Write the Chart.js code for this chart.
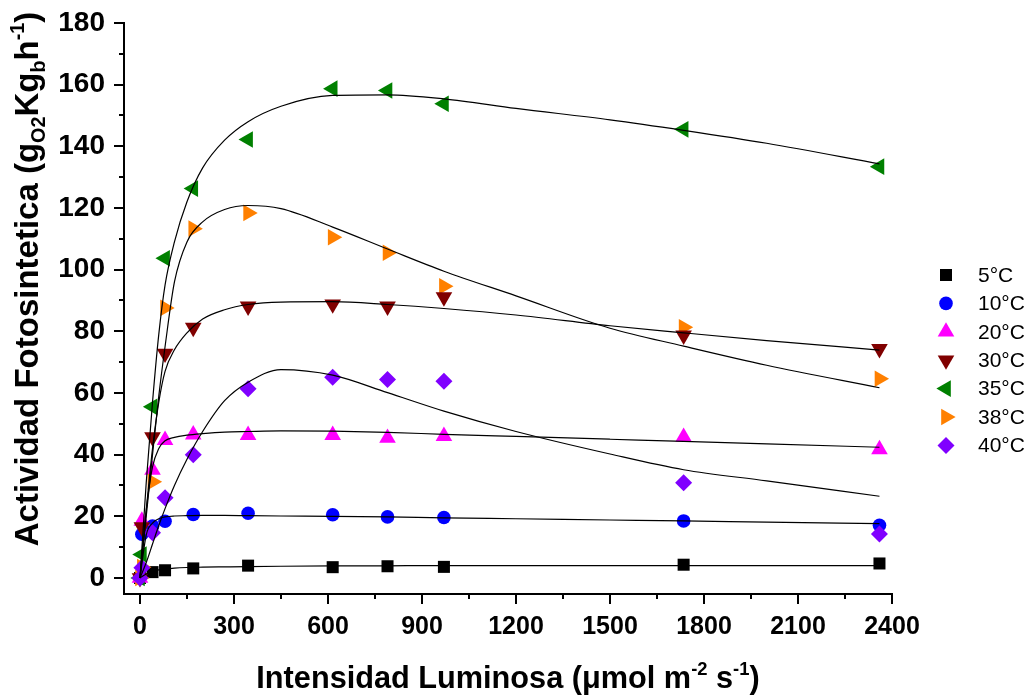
<!DOCTYPE html>
<html>
<head>
<meta charset="utf-8">
<script src="https://cdn.jsdelivr.net/npm/chart.js@4.4.1/dist/chart.umd.min.js"></script>
<style>
  html, body { margin: 0; padding: 0; background: #ffffff; }
  #wrap { width: 1030px; height: 696px; }
</style>
</head>
<body>
<div id="wrap"><canvas id="chart" width="1030" height="696"></canvas></div>
<script>
const FONT = '"Liberation Sans", Arial, Helvetica, sans-serif';

// Measured photosynthetic activity at each light intensity, one array per temperature
const temperatures = ['5°C', '10°C', '20°C', '30°C', '35°C', '38°C', '40°C'];
const lightIntensity = [0, 6, 40, 80, 170, 345, 615, 790, 970, 1735, 2360];
const rate5  = [0, null, 1.9, 2.5, 3.1, 4.0, 3.5, 3.8, 3.6, 4.3, 4.7];
const rate10 = [0, 14.2, 16.8, 18.4, 20.6, 21.0, 20.5, 19.8, 19.6, 18.5, 17.1];
const rate20 = [0, 18.5, 35.0, 44.7, 46.5, 46.3, 46.3, 45.4, 46.0, 45.7, 41.7];
const rate30 = [0, 16.5, 45.7, 72.8, 81.2, 88.1, 88.8, 88.1, 91.1, 78.7, 74.3];
const rate35 = [0, 7.6, 55.5, 103.7, 126.3, 142.2, 158.7, 158.1, 153.8, 145.5, 133.4];
const rate38 = [0, 3.5, 31.2, 87.6, 113.3, 118.4, 110.5, 105.5, 94.6, 81.3, 64.6];
const rate40 = [0, 3.3, 14.7, 26.0, 40.0, 61.4, 65.1, 64.4, 63.8, 30.9, 14.3];

// Fitted light-response curves, sampled along the intensity axis
const fitIntensity = [0, 20, 40, 60, 80, 110, 150, 200, 270, 345, 450, 615, 790, 970, 1200, 1500, 1735, 2000, 2360];
const fit5  = [0, 1.3, 2.1, 2.6, 2.9, 3.2, 3.4, 3.5, 3.6, 3.7, 3.8, 3.9, 3.95, 4.0, 4.0, 4.0, 4.0, 4.0, 4.0];
const fit10 = [0, 14, 17.8, 19.2, 19.8, 20.1, 20.2, 20.3, 20.3, 20.2, 20.1, 20.0, 19.8, 19.5, 19.2, 18.8, 18.5, 18.1, 17.6];
const fit20 = [0, 22, 36, 42, 44.5, 45.6, 46.3, 46.8, 47.3, 47.5, 47.7, 47.6, 47.2, 46.6, 45.9, 45.0, 44.3, 43.5, 42.4];
const fit30 = [0, 22, 42, 57, 67, 74, 79.5, 84, 87, 88.7, 89.5, 89.6, 88.7, 87.4, 85.3, 81.8, 79.5, 77, 73.9];
const fit35 = [0, 31, 57, 79, 95, 109, 122, 133, 142, 148, 153, 156.5, 156.7, 155.4, 152.3, 148.6, 145.2, 141, 134.3];
const fit38 = [0, 20, 40, 59, 75, 96, 109, 115.5, 119.5, 120.8, 119.8, 113.8, 106.7, 99.5, 91.5, 81, 75.2, 69, 61.7];
const fit40 = [0, 5, 11, 17, 22.5, 30, 38.5, 47.5, 57.5, 63.5, 67.6, 65.8, 60.1, 54.1, 47.5, 40.2, 35.1, 31.5, 26.5];

// Axis tick labels
const xTicks = [0, 300, 600, 900, 1200, 1500, 1800, 2100, 2400];
const yTicks = [0, 20, 40, 60, 80, 100, 120, 140, 160, 180];

const measured = [rate5, rate10, rate20, rate30, rate35, rate38, rate40];
const fitted = [fit5, fit10, fit20, fit30, fit35, fit38, fit40];

const markerStyles = [
  { color: '#000000', pointStyle: 'rect',     rotation: 0,   radius: 8.5, order: 7 },
  { color: '#0000ff', pointStyle: 'circle',   rotation: 0,   radius: 6.8, order: 6 },
  { color: '#ff00ff', pointStyle: 'triangle', rotation: 0,   radius: 9.6, order: 5 },
  { color: '#800000', pointStyle: 'triangle', rotation: 180, radius: 9.6, order: 2 },
  { color: '#008000', pointStyle: 'triangle', rotation: 270, radius: 9.6, order: 3 },
  { color: '#ff8000', pointStyle: 'triangle', rotation: 90,  radius: 9.6, order: 4 },
  { color: '#8000ff', pointStyle: 'rectRot',  rotation: 0,   radius: 8.5, order: 1 }
];

const toPoints = (xs, ys) => xs.map((x, i) => ({ x: x, y: ys[i] })).filter(p => p.y !== null);

const datasets = [];
measured.forEach((series, i) => {
  const s = markerStyles[i];
  datasets.push({
    label: temperatures[i],
    data: toPoints(lightIntensity, series),
    showLine: false,
    pointStyle: s.pointStyle,
    rotation: s.rotation,
    pointRadius: s.radius,
    pointBorderWidth: 0,
    backgroundColor: s.color,
    borderColor: s.color,
    order: s.order
  });
});
fitted.forEach((series, i) => {
  datasets.push({
    label: 'ajuste ' + temperatures[i],
    data: toPoints(fitIntensity, series),
    showLine: true,
    pointRadius: 0,
    borderColor: '#000000',
    borderWidth: 1.2,
    cubicInterpolationMode: 'monotone',
    fill: false,
    order: 0
  });
});

// Draws a label made of normal, superscript and subscript pieces, centred on the origin
function drawRichText(ctx, parts, size) {
  let total = 0;
  parts.forEach(p => {
    const fs = p.k === 'n' ? size : size * 0.6;
    ctx.font = 'bold ' + fs + 'px ' + FONT;
    p.w = ctx.measureText(p.t).width;
    total += p.w;
  });
  let x = -total / 2;
  ctx.textBaseline = 'alphabetic';
  ctx.textAlign = 'left';
  parts.forEach(p => {
    const fs = p.k === 'n' ? size : size * 0.6;
    ctx.font = 'bold ' + fs + 'px ' + FONT;
    const dy = p.k === 'sup' ? -size * 0.42 : (p.k === 'sub' ? size * 0.22 : 0);
    ctx.fillText(p.t, x, dy);
    x += p.w;
  });
}

const xTitle = [
  { t: 'Intensidad Luminosa (μmol m', k: 'n' },
  { t: '-2', k: 'sup' },
  { t: ' s', k: 'n' },
  { t: '-1', k: 'sup' },
  { t: ')', k: 'n' }
];
const yTitle = [
  { t: 'Actividad Fotosintetica (g', k: 'n' },
  { t: 'O2', k: 'sub' },
  { t: 'Kg', k: 'n' },
  { t: 'b', k: 'sub' },
  { t: 'h', k: 'n' },
  { t: '-1', k: 'sup' },
  { t: ')', k: 'n' }
];

const decorations = {
  id: 'decorations',
  beforeDatasetsDraw(chart) {
    const { ctx, chartArea, scales } = chart;
    ctx.save();
    ctx.strokeStyle = '#000000';
    ctx.lineWidth = 2;
    ctx.beginPath();
    // y-axis ticks: major at each label, minor halfway between
    yTicks.forEach((v, i) => {
      const py = Math.round(scales.y.getPixelForValue(v));
      ctx.moveTo(chartArea.left - 10, py);
      ctx.lineTo(chartArea.left, py);
      if (i > 0) {
        const pm = Math.round(scales.y.getPixelForValue((v + yTicks[i - 1]) / 2));
        ctx.moveTo(chartArea.left - 5, pm);
        ctx.lineTo(chartArea.left, pm);
      }
    });
    // x-axis ticks
    xTicks.forEach((v, i) => {
      const px = Math.round(scales.x.getPixelForValue(v));
      ctx.moveTo(px, chartArea.bottom);
      ctx.lineTo(px, chartArea.bottom + 10);
      if (i > 0) {
        const pm = Math.round(scales.x.getPixelForValue((v + xTicks[i - 1]) / 2));
        ctx.moveTo(pm, chartArea.bottom);
        ctx.lineTo(pm, chartArea.bottom + 5);
      }
    });
    ctx.stroke();
    ctx.restore();
  },
  afterDraw(chart) {
    const { ctx, chartArea } = chart;
    ctx.save();
    ctx.fillStyle = '#000000';
    // axis titles
    ctx.save();
    ctx.translate((chartArea.left + chartArea.right) / 2, 688);
    drawRichText(ctx, xTitle, 30.7);
    ctx.restore();
    ctx.save();
    ctx.translate(38, 279);
    ctx.rotate(-Math.PI / 2);
    drawRichText(ctx, yTitle, 33);
    ctx.restore();

    // legend
    const markerX = 946, textX = 978, firstY = 275, rowGap = 28.4;
    measured.forEach((_, i) => {
      const s = markerStyles[i];
      const y = firstY + i * rowGap;
      ctx.fillStyle = s.color;
      ctx.strokeStyle = s.color;
      Chart.helpers.drawPoint(ctx, { pointStyle: s.pointStyle, rotation: s.rotation, radius: s.radius, borderWidth: 0 }, markerX, y);
      ctx.fillStyle = '#000000';
      ctx.font = '21px ' + FONT;
      ctx.textBaseline = 'middle';
      ctx.textAlign = 'left';
      ctx.fillText(temperatures[i], textX, y + 1);
    });
    ctx.restore();
  }
};

new Chart(document.getElementById('chart'), {
  type: 'scatter',
  data: { datasets: datasets },
  plugins: [decorations],
  options: {
    responsive: false,
    devicePixelRatio: 1,
    animation: false,
    events: [],
    layout: { padding: { left: 0, top: 23, right: 138, bottom: 0 } },
    plugins: {
      legend: { display: false },
      tooltip: { enabled: false }
    },
    scales: {
      x: {
        type: 'linear',
        min: -51,
        max: 2400,
        afterBuildTicks: (scale) => { scale.ticks = xTicks.map(v => ({ value: v })); },
        afterFit: (scale) => { scale.height = 102; scale.paddingLeft = 0; scale.paddingRight = 0; },
        grid: { display: false, drawTicks: false },
        border: { display: true, color: '#000000', width: 2 },
        ticks: {
          font: { family: FONT, size: 25, weight: 'bold' },
          color: '#000000',
          padding: 18,
          maxRotation: 0,
          autoSkip: false,
          callback: (v) => String(v)
        }
      },
      y: {
        type: 'linear',
        min: -5.2,
        max: 180,
        afterBuildTicks: (scale) => { scale.ticks = yTicks.map(v => ({ value: v })); },
        afterFit: (scale) => { scale.width = 124; scale.paddingTop = 0; scale.paddingBottom = 0; },
        grid: { display: false, drawTicks: false },
        border: { display: true, color: '#000000', width: 2 },
        ticks: {
          font: { family: FONT, size: 28, weight: 'bold' },
          color: '#000000',
          padding: 19,
          autoSkip: false,
          callback: (v) => String(v)
        }
      }
    }
  }
});
</script>
</body>
</html>
